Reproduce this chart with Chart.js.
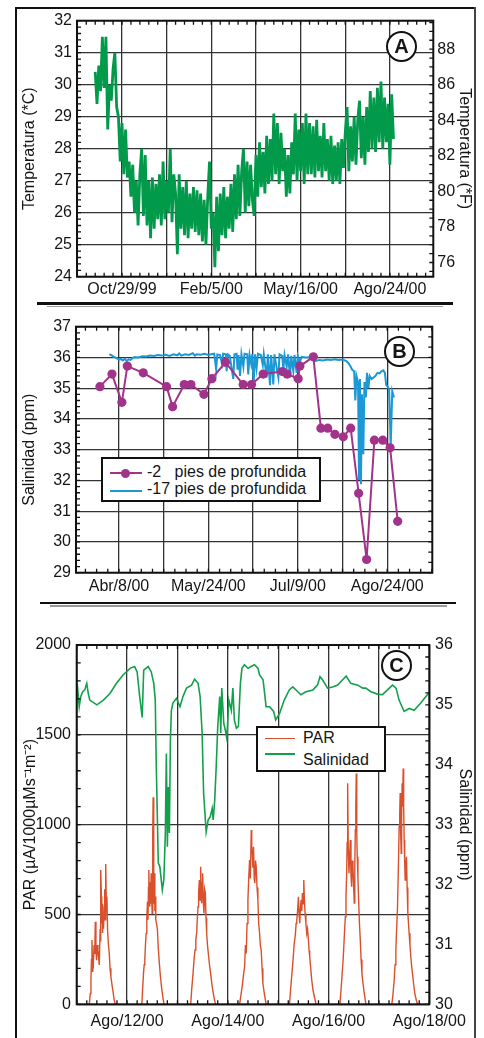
<!DOCTYPE html>
<html>
<head>
<meta charset="utf-8">
<script src="https://cdn.jsdelivr.net/npm/chart.js@4.4.1/dist/chart.umd.min.js"></script>
<style>
body { margin: 0; background: #fff; }
#page { position: relative; width: 484px; height: 1038px; overflow: hidden; font-family: "Liberation Sans", Arial, sans-serif; color: #151515; }
canvas { position: absolute; left: 0; }
.ln { position: absolute; }
.badge { position: absolute; width: 31px; height: 31px; box-sizing: border-box; border: 2.5px solid #111; border-radius: 50%; background: #fff; font-weight: bold; font-size: 20px; line-height: 26px; text-align: center; }
.legend { position: absolute; box-sizing: border-box; border: 2px solid #111; background: #fff; }
.lt { position: absolute; font-size: 16px; line-height: 19px; white-space: pre; }
</style>
</head>
<body>
<div id="page">
  <canvas id="chartA" width="484" height="302" style="top:0"></canvas>
  <canvas id="chartB" width="484" height="296" style="top:306px"></canvas>
  <canvas id="chartC" width="484" height="432" style="top:606px"></canvas>

  <!-- frame and separators -->
  <div class="ln" style="left:15px;top:7px;width:461px;height:2px;background:#111"></div>
  <div class="ln" style="left:15px;top:7px;width:2px;height:1031px;background:#111"></div>
  <div class="ln" style="left:474px;top:7px;width:2px;height:1031px;background:#444"></div>
  <div class="ln" style="left:37px;top:302px;width:416px;height:2.5px;background:#111"></div>
  <div class="ln" style="left:47px;top:305.5px;width:396px;height:1.5px;background:#999"></div>
  <div class="ln" style="left:40px;top:601.5px;width:416px;height:2px;background:#111"></div>
  <div class="ln" style="left:50px;top:605px;width:397px;height:1.5px;background:#999"></div>

  <div class="badge" style="left:386px;top:31px">A</div>
  <div class="badge" style="left:384px;top:336px">B</div>
  <div class="badge" style="left:381px;top:650px">C</div>

  <!-- legend B -->
  <div class="legend" style="left:101px;top:457px;width:220px;height:45px"></div>
  <div class="ln" style="left:110px;top:472.2px;width:32px;height:2.2px;background:#a2338b"></div>
  <div class="ln" style="left:121px;top:468.8px;width:9px;height:9px;border-radius:50%;background:#a2338b"></div>
  <div class="lt" style="left:147px;top:462px">-2   pies de profundida</div>
  <div class="ln" style="left:110px;top:489.5px;width:32px;height:2.5px;background:#1b98d5"></div>
  <div class="lt" style="left:147px;top:479px">-17 pies de profundida</div>

  <!-- legend C -->
  <div class="legend" style="left:256px;top:726px;width:130px;height:46px"></div>
  <div class="ln" style="left:265px;top:737.6px;width:30px;height:1.3px;background:#d9502c"></div>
  <div class="lt" style="left:303px;top:727.5px">PAR</div>
  <div class="ln" style="left:265px;top:753.2px;width:30px;height:1.7px;background:#13a04c"></div>
  <div class="lt" style="left:303px;top:749.5px">Salinidad</div>
</div>

<script>
// ---- panel A: temperature (days from Oct/29/99) ----
var tempStartDay = -30;
var tempStepDays = 2;
var tempValues = [
    30.4, 29.4, 30.6, 29.8, 31.5, 29.9, 31.5, 28.6, 30.0, 29.5,
    30.5, 31.0, 29.3, 29.0, 27.6, 28.8, 27.2, 28.6, 27.1, 27.6,
    26.5, 27.5, 26.0, 27.0, 25.6, 27.2, 28.0, 25.9, 27.8, 25.6,
    27.0, 25.2, 27.1, 25.5, 26.9, 25.8, 27.2, 25.6, 27.6, 25.8,
    27.0, 26.0, 28.0, 25.7, 27.2, 26.6, 24.7, 27.2, 25.5, 26.8,
    25.3, 27.0, 25.2, 26.6, 25.5, 26.8, 25.4, 26.7, 25.3, 26.6,
    25.1, 26.4, 25.0, 26.5, 27.6, 25.5, 26.0, 24.3, 26.5, 24.8,
    26.6, 25.3, 26.8, 25.2, 26.5, 25.5, 26.9, 25.4, 27.2, 25.8,
    27.5, 25.9, 27.3, 28.0, 26.0, 27.6, 26.2, 27.5, 26.4, 25.9,
    27.8, 26.5, 28.2, 26.8, 27.9, 26.6, 28.4, 26.9, 28.3, 27.0,
    29.1, 27.2, 28.8, 26.9, 28.5, 27.3, 28.0, 26.5, 27.8, 26.6,
    28.2, 27.2, 29.1, 27.0, 28.6, 27.3, 28.8, 26.9, 29.1, 27.2,
    28.8, 27.2, 28.7, 27.1, 28.9, 27.3, 28.4, 27.1, 28.8, 27.3,
    28.3, 27.0, 28.4, 26.9, 28.1, 27.0, 28.2, 26.9, 28.3, 27.4,
    28.5, 29.3, 27.3, 28.7, 27.6, 29.0, 27.5, 28.9, 29.5, 27.7,
    29.0, 27.5, 29.3, 27.9, 29.8, 28.0, 29.6, 27.9, 29.9, 28.2,
    30.1, 28.0, 29.6, 28.2, 29.4, 27.5, 29.7, 28.3
];
var tempGridDays = [0, 50, 100, 150, 200, 250, 300];
var tempLabelDays = [0, 100, 200, 300];
var tempLabels = ['Oct/29/99', 'Feb/5/00', 'May/16/00', 'Ago/24/00'];
var tempTicksF = [76, 78, 80, 82, 84, 86, 88];

// ---- panel B: salinity (days from Abr/8/00) ----
var salShallowDays = [-9.8, -3.6, 1.5, 4.3, 12.5, 24.5, 27.6, 33.6, 37.0, 43.7, 47.8, 54.8, 63.9, 68.2, 74.2, 84.1,
    86.5, 92.2, 93.1, 100, 103.9, 107.4, 111.1, 115.4, 119.2, 123.3, 127.4, 131.4, 135.7, 139.5, 143.4];
var salShallowValues = [35.05, 35.46, 34.54, 35.72, 35.50, 35.05, 34.40, 35.12, 35.12, 34.80, 35.31, 35.84, 35.12, 35.12, 35.46, 35.54,
    35.46, 35.31, 35.72, 36.02, 33.70, 33.70, 33.50, 33.42, 33.70, 31.58, 29.43, 33.31, 33.31, 33.06, 30.67];
var salDeepDays = [-5, -4, -3, -2, -1, 0, 1, 2, 3, 4, 5, 6, 7, 8,
    10, 12, 14, 16, 18, 20, 22, 24, 26, 28, 30, 31, 32, 34, 36, 38, 39, 40, 42, 44, 46, 48,
    49, 50, 50.6, 52, 53, 53.6, 55, 55.4, 56, 57,
    58.8, 59.4, 60.5, 61, 61.5, 62.3, 63, 64, 64.6, 66,
    66.5, 67.2, 68, 68.5, 69.3, 70, 70.8, 71.5, 73, 74,
    74.5, 76, 76.6, 77.7, 78.3, 79.4, 80, 81, 82, 82.6,
    84, 84.6, 85.2, 86.3, 87, 88, 88.6, 89.7, 90.3, 91.4,
    92, 93, 94, 96, 98, 100, 101, 103, 105, 107,
    109, 111, 113, 115, 117, 118, 119, 120, 121, 121.6,
    122.2, 123, 123.5, 124, 124.5, 125, 125.7, 126.3, 127, 127.6,
    128.3, 129, 130, 131, 132, 133, 134, 135, 136, 136.8,
    137.5, 138.3, 139, 139.8, 140.6, 141.5];
var salDeepValues = [36.10, 36.08, 36.03, 36.00, 35.97, 35.93, 35.95, 35.90, 35.96, 35.88, 35.94, 35.92, 35.98, 36.01,
    36.00, 36.04, 36.03, 36.06, 36.05, 36.08, 36.06, 36.09, 36.05, 36.10, 36.07, 36.13, 36.06, 36.10, 36.08, 36.14, 36.06, 36.10, 36.09, 36.12, 36.08, 36.11,
    36.12, 35.62, 36.10, 36.08, 35.80, 36.12, 36.10, 35.55, 36.10, 36.05,
    35.30, 36.10, 36.12, 35.60, 36.08, 35.40, 36.10, 35.70, 36.12, 36.10,
    35.45, 36.08, 35.80, 36.10, 35.15, 36.10, 35.65, 36.12, 36.08, 35.75,
    36.10, 35.35, 36.10, 35.10, 36.08, 35.12, 36.10, 35.70, 35.35, 36.10,
    36.05, 35.62, 36.08, 35.70, 36.10, 35.35, 36.05, 35.55, 36.08, 35.50,
    36.05, 35.85, 36.02, 36.00, 36.01, 36.02, 35.88, 35.92, 35.90, 35.93,
    35.92, 35.94, 35.92, 35.93, 35.88, 35.82, 35.72, 35.60, 35.55, 34.60,
    35.40, 35.20, 32.05, 35.30, 31.88, 34.80, 32.85, 35.20, 34.70, 35.50,
    35.00, 35.40, 35.30, 35.35, 35.40, 35.50, 35.48, 35.55, 35.58, 35.50,
    35.10, 35.05, 34.95, 33.10, 34.90, 34.70];
var salGridDays = [0, 23, 46, 69, 92, 115, 138];
var salLabelDays = [0, 46, 92, 138];
var salLabels = ['Abr/8/00', 'May/24/00', 'Jul/9/00', 'Ago/24/00'];

// ---- panel C: PAR and salinity (days from Ago/11/00 00:00), null = night gap ----
var parTimes = [
    0.250, 0.270, 0.283, 0.293, 0.303, 0.316, 0.329, 0.345, 0.359, 0.369, 0.382, 0.395, 0.409, 0.422, 0.435, 0.448,
    0.465, 0.473, 0.481, 0.490, 0.498, 0.506, 0.514, 0.524, 0.532, 0.547, 0.556, 0.564, 0.572, 0.580, 0.590, 0.600,
    0.613, 0.630, 0.646, 0.662, 0.679, 0.700, 0.725, 0.745, 0.765, 1.0,
    1.293, 1.310, 1.326, 1.340, 1.352, 1.365, 1.379, 1.392, 1.405, 1.415, 1.425, 1.432, 1.441, 1.451, 1.460, 1.468,
    1.478, 1.488, 1.498, 1.507, 1.512, 1.517, 1.525, 1.534, 1.544, 1.552, 1.560, 1.570, 1.585, 1.603, 1.618, 1.636,
    1.660, 1.683, 1.710, 1.735, 2.0,
    2.263, 2.285, 2.310, 2.330, 2.349, 2.365, 2.382, 2.395, 2.409, 2.420, 2.435, 2.448, 2.461, 2.471, 2.481, 2.491,
    2.501, 2.514, 2.527, 2.540, 2.554, 2.567, 2.580, 2.596, 2.613, 2.636, 2.659, 2.685, 2.712, 2.735, 2.758, 3.0,
    3.234, 3.285, 3.310, 3.333, 3.350, 3.366, 3.382, 3.399, 3.415, 3.432, 3.448, 3.465, 3.475, 3.485, 3.498, 3.511,
    3.524, 3.537, 3.550, 3.564, 3.580, 3.597, 3.613, 3.630, 3.646, 3.663, 3.680, 3.696, 3.730, 3.762, 4.0,
    4.224, 4.257, 4.290, 4.316, 4.343, 4.356, 4.369, 4.385, 4.402, 4.415, 4.428, 4.441, 4.455, 4.468, 4.481, 4.494,
    4.508, 4.521, 4.534, 4.550, 4.567, 4.583, 4.600, 4.613, 4.626, 4.646, 4.666, 4.690, 4.719, 4.752, 5.0,
    5.227, 5.260, 5.293, 5.313, 5.333, 5.346, 5.359, 5.369, 5.379, 5.392, 5.405, 5.418, 5.432, 5.445, 5.458, 5.471,
    5.485, 5.498, 5.511, 5.521, 5.531, 5.541, 5.550, 5.560, 5.570, 5.583, 5.597, 5.613, 5.630, 5.646, 5.663, 5.686,
    5.709, 5.742, 6.0,
    6.257, 6.280, 6.303, 6.320, 6.336, 6.352, 6.369, 6.386, 6.402, 6.412, 6.422, 6.432, 6.442, 6.451, 6.461, 6.471,
    6.481, 6.491, 6.501, 6.511, 6.521, 6.534, 6.547, 6.560, 6.574, 6.587, 6.600, 6.616, 6.633, 6.650, 6.666, 6.690,
    6.712, 6.740, 6.765
];
var parValues = [
    0, 60, 135, 250, 358, 180, 209, 330, 280, 460, 300, 246, 330, 302, 260, 219,
    420, 350, 747, 600, 450, 560, 397, 500, 420, 543, 640, 470, 700, 781, 520, 600,
    414, 330, 286, 200, 154, 110, 63, 25, 0, null,
    0, 90, 172, 220, 246, 330, 395, 480, 571, 470, 650, 747, 600, 543, 680, 560,
    729, 600, 506, 800, 950, 1152, 820, 560, 729, 520, 600, 469, 450, 414, 320, 246,
    160, 98, 40, 0, null,
    0, 90, 172, 250, 302, 360, 397, 480, 543, 620, 692, 580, 766, 640, 563, 680,
    729, 560, 506, 640, 619, 480, 395, 330, 283, 220, 172, 110, 61, 25, 0, null,
    0, 100, 160, 209, 330, 283, 450, 580, 700, 803, 700, 970, 880, 841, 760, 877,
    700, 675, 800, 766, 650, 580, 450, 397, 330, 302, 200, 117, 50, 0, null,
    0, 120, 228, 330, 395, 450, 469, 520, 599, 500, 452, 530, 580, 520, 619, 560,
    692, 580, 506, 450, 395, 420, 358, 300, 265, 200, 135, 80, 42, 0, null,
    0, 130, 265, 380, 487, 600, 729, 900, 1230, 850, 729, 820, 914, 720, 655, 800,
    766, 650, 563, 760, 970, 1100, 1285, 950, 821, 700, 580, 450, 358, 250, 172, 110,
    61, 0, null,
    0, 60, 135, 220, 302, 420, 543, 760, 988, 1050, 1176, 950, 841, 1050, 1230, 1100,
    1313, 1100, 914, 800, 692, 780, 821, 650, 506, 450, 395, 330, 265, 210, 172, 110,
    61, 25, 0
];
var salCTimes = [0.01, 0.05, 0.08, 0.12, 0.16, 0.20, 0.23, 0.26, 0.40, 0.53, 0.66, 0.79, 0.92, 1.06, 1.15, 1.20, 1.25, 1.30,
    1.33, 1.42, 1.48, 1.53, 1.56, 1.58, 1.62, 1.65, 1.70, 1.73, 1.76, 1.78, 1.80, 1.82, 1.84, 1.86, 1.88, 1.91, 1.98,
    2.05, 2.11, 2.18, 2.28, 2.34, 2.41, 2.45, 2.49, 2.52, 2.57, 2.61, 2.65, 2.69, 2.71, 2.74, 2.77, 2.80, 2.84, 2.86,
    2.88, 2.92, 2.95, 2.98, 3.02, 3.07, 3.10, 3.13, 3.17, 3.21, 3.25, 3.28, 3.33, 3.40, 3.46, 3.53, 3.60, 3.63, 3.70,
    3.76, 3.83, 3.91, 3.95, 4.03, 4.12, 4.22, 4.29, 4.39, 4.45, 4.55, 4.69, 4.78, 4.83, 4.88, 4.98, 5.08, 5.18, 5.28,
    5.35, 5.44, 5.58, 5.68, 5.74, 5.84, 5.97, 6.07, 6.17, 6.27, 6.34, 6.40, 6.50, 6.60, 6.70, 6.83, 6.98];
var salCValues = [35.36, 34.97, 35.14, 35.22, 35.25, 35.36, 35.19, 35.08, 35.00, 35.08, 35.19, 35.36, 35.50, 35.61, 35.64, 35.55, 35.14, 34.79,
    35.58, 35.64, 35.55, 35.36, 35.08, 33.97, 32.36, 32.30, 31.91, 32.08, 32.86, 34.19, 32.63, 33.63, 32.86, 34.41, 34.91, 35.03, 35.11,
    34.97, 35.14, 35.28, 35.33, 35.43, 35.36, 35.14, 34.53, 33.52, 32.88, 33.08, 33.13, 33.27, 33.08, 33.41, 33.97, 34.64, 35.14, 34.53,
    35.28, 34.69, 34.58, 34.44, 35.08, 34.91, 35.28, 34.75, 34.61, 34.64, 35.36, 35.61, 35.67, 35.61, 35.64, 35.67, 35.61, 35.50, 35.42,
    34.97, 34.97, 34.89, 34.75, 34.86, 35.08, 35.25, 35.30, 35.22, 35.17, 35.22, 35.25, 35.33, 35.47, 35.42, 35.28, 35.30, 35.33, 35.42,
    35.48, 35.36, 35.33, 35.28, 35.28, 35.22, 35.18, 35.17, 35.25, 35.33, 35.28, 35.08, 34.89, 34.94, 34.91, 35.03, 35.19];
var cGridDays = [0, 1, 2, 3, 4, 5, 6, 7];
var cLabelDays = [1, 3, 5, 7];
var cLabels = ['Ago/12/00', 'Ago/14/00', 'Ago/16/00', 'Ago/18/00'];

Chart.defaults.font.family = '"Liberation Sans", Arial, sans-serif';
Chart.defaults.font.size = 16;
Chart.defaults.color = '#151515';

function pairs(xs, ys) {
    return ys.map(function (y, i) { return { x: xs[i], y: y }; });
}

// inward minor ticks on the four sides + plot frame
var frameTicks = {
    id: 'frameTicks',
    afterDraw: function (chart, args, opts) {
        var ctx = chart.ctx, a = chart.chartArea, len = 4;
        ctx.save();
        ctx.strokeStyle = '#111';
        ctx.lineWidth = 1.3;
        ctx.beginPath();
        var xs = chart.scales.x;
        for (var i = Math.ceil(xs.min / opts.xStep - 1e-6); i * opts.xStep <= xs.max + 1e-6; i++) {
            var px = xs.getPixelForValue(i * opts.xStep);
            ctx.moveTo(px, a.top); ctx.lineTo(px, a.top + len);
            ctx.moveTo(px, a.bottom); ctx.lineTo(px, a.bottom - len);
        }
        [['left', opts.left], ['right', opts.right]].forEach(function (s) {
            var sc = chart.scales[s[1].id], step = s[1].step;
            var x0 = s[0] == 'left' ? a.left : a.right;
            var dir = s[0] == 'left' ? 1 : -1;
            for (var j = Math.ceil(sc.min / step - 1e-6); j * step <= sc.max + 1e-6; j++) {
                var py = sc.getPixelForValue(j * step);
                ctx.moveTo(x0, py); ctx.lineTo(x0 + dir * len, py);
            }
        });
        ctx.stroke();
        ctx.lineWidth = 2;
        ctx.strokeRect(a.left, a.top, a.width, a.height);
        ctx.restore();
    }
};

var gridStyle = { color: '#333', lineWidth: 1.3, drawTicks: false };
var noGrid = { display: false, drawTicks: false };

function xAxis(min, max, gridDays, labelDays, labels, height, pad) {
    return {
        type: 'linear', min: min, max: max,
        afterBuildTicks: function (ax) { ax.ticks = gridDays.map(function (v) { return { value: v }; }); },
        afterFit: function (ax) { ax.height = height; },
        ticks: {
            autoSkip: false, maxRotation: 0, padding: pad,
            callback: function (v) { var k = labelDays.indexOf(v); return k >= 0 ? labels[k] : ''; }
        },
        grid: gridStyle,
        border: { display: false }
    };
}

// ---- chart A ----
var tempPoints = tempValues.map(function (v, i) { return { x: tempStartDay + i * tempStepDays, y: v }; });
new Chart($('chartA'), {
    type: 'line',
    data: { datasets: [{ data: tempPoints, borderColor: '#009a4a', borderWidth: 2.8, pointRadius: 0, tension: 0 }] },
    options: {
        responsive: false, animation: false, events: [],
        layout: { padding: { left: 16, right: 8, top: 20.7, bottom: 0 } },
        plugins: {
            legend: { display: false }, tooltip: { enabled: false },
            frameTicks: { xStep: 10, left: { id: 'y', step: 0.2 }, right: { id: 'yF', step: 0.5 } }
        },
        scales: {
            x: xAxis(-50.4, 348.6, tempGridDays, tempLabelDays, tempLabels, 25.3, 3.2),
            y: {
                min: 24, max: 32,
                ticks: { stepSize: 1, padding: 5, callback: function (v) { return String(v); } },
                afterFit: function (ax) { ax.width = 61; },
                title: { display: true, text: 'Temperatura (*C)', padding: { top: 4.4, bottom: 0 } },
                grid: gridStyle, border: { display: false }
            },
            yF: {
                position: 'right', min: 75.2, max: 89.6,
                afterBuildTicks: function (ax) { ax.ticks = tempTicksF.map(function (v) { return { value: v }; }); },
                afterFit: function (ax) { ax.width = 42.7; },
                ticks: { padding: 4, callback: function (v) { return String(v); } },
                title: { display: true, text: 'Temperatura (*F)', padding: { top: 2, bottom: 0 } },
                grid: noGrid, border: { display: false }
            }
        }
    },
    plugins: [frameTicks]
});

// ---- chart B ----
new Chart($('chartB'), {
    type: 'line',
    data: {
        datasets: [
            { data: pairs(salShallowDays, salShallowValues), borderColor: '#a2338b', backgroundColor: '#a2338b',
              borderWidth: 2, pointRadius: 4.6, pointBorderWidth: 0, tension: 0 },
            { data: pairs(salDeepDays, salDeepValues), borderColor: '#1b98d5', borderWidth: 2, pointRadius: 0, tension: 0 }
        ]
    },
    options: {
        responsive: false, animation: false, events: [],
        layout: { padding: { left: 16, right: 51.7, top: 20.7, bottom: 0 } },
        plugins: {
            legend: { display: false }, tooltip: { enabled: false },
            frameTicks: { xStep: 5.75, left: { id: 'y', step: 0.2 }, right: { id: 'y', step: 1 / 3 } }
        },
        scales: {
            x: xAxis(-22.1, 161.2, salGridDays, salLabelDays, salLabels, 29.3, 4),
            y: {
                min: 29, max: 37,
                ticks: { stepSize: 1, padding: 5, callback: function (v) { return String(v); } },
                afterFit: function (ax) { ax.width = 60; },
                title: { display: true, text: 'Salinidad (ppm)', padding: { top: 4.4, bottom: 0 } },
                grid: gridStyle, border: { display: false }
            }
        }
    },
    plugins: [frameTicks]
});

// ---- chart C ----
new Chart($('chartC'), {
    type: 'line',
    data: {
        datasets: [
            { data: pairs(salCTimes, salCValues), yAxisID: 'ySal', borderColor: '#13a04c', borderWidth: 1.6, pointRadius: 0, tension: 0 },
            { data: pairs(parTimes, parValues), yAxisID: 'yPar', borderColor: '#d9502c', borderWidth: 1.4, pointRadius: 0, tension: 0, spanGaps: false }
        ]
    },
    options: {
        responsive: false, animation: false, events: [],
        layout: { padding: { left: 16, right: 8, top: 39, bottom: 0 } },
        plugins: {
            legend: { display: false }, tooltip: { enabled: false },
            frameTicks: { xStep: 0.2, left: { id: 'yPar', step: 100 }, right: { id: 'ySal', step: 0.2 } }
        },
        scales: {
            x: xAxis(0, 7, cGridDays, cLabelDays, cLabels, 33.7, 7.8),
            yPar: {
                position: 'left', min: 0, max: 2000,
                ticks: { stepSize: 500, padding: 5.7, callback: function (v) { return String(v); } },
                afterFit: function (ax) { ax.width = 60.7; },
                title: { display: true, text: 'PAR (µA/1000µMs⁻¹m⁻²)', padding: { top: 4.9, bottom: 0 } },
                grid: gridStyle, border: { display: false }
            },
            ySal: {
                position: 'right', min: 30, max: 36,
                ticks: { stepSize: 1, padding: 5.7, callback: function (v) { return String(v); } },
                afterFit: function (ax) { ax.width = 46.7; },
                title: { display: true, text: 'Salinidad (ppm)', padding: { top: 2.4, bottom: 0 } },
                grid: noGrid, border: { display: false }
            }
        }
    },
    plugins: [frameTicks]
});

function $(id) { return document.getElementById(id); }
</script>
</body>
</html>
